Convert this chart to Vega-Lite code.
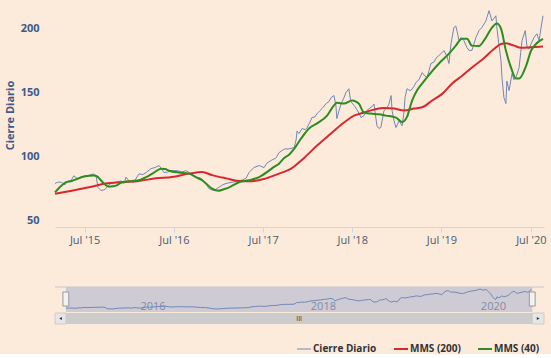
{
  "$schema": "https://vega.github.io/schema/vega-lite/v6.json",
  "background": "#FCEADB",
  "padding": {"left": 4, "top": 3, "right": 6, "bottom": 0},
  "config": {
    "view": {"stroke": null},
    "font": "Open Sans",
    "legend": {
      "orient": "none", "legendX": 244, "legendY": 341, "direction": "horizontal",
      "symbolType": "stroke", "symbolSize": 196, "symbolStrokeWidth": 2,
      "labelFontSize": 10, "labelFontWeight": "bold", "labelColor": "#333333",
      "labelFont": "Open Sans", "columnPadding": 13, "labelOffset": 4
    }
  },
  "datasets": {
    "series": [
      {"d": "2015-03-02", "v": 79, "s": "Cierre Diario"},
      {"d": "2015-03-14", "v": 80, "s": "Cierre Diario"},
      {"d": "2015-03-27", "v": 80, "s": "Cierre Diario"},
      {"d": "2015-04-12", "v": 78, "s": "Cierre Diario"},
      {"d": "2015-04-24", "v": 81, "s": "Cierre Diario"},
      {"d": "2015-05-06", "v": 81, "s": "Cierre Diario"},
      {"d": "2015-05-18", "v": 85, "s": "Cierre Diario"},
      {"d": "2015-05-31", "v": 83, "s": "Cierre Diario"},
      {"d": "2015-06-17", "v": 84, "s": "Cierre Diario"},
      {"d": "2015-07-03", "v": 85, "s": "Cierre Diario"},
      {"d": "2015-07-15", "v": 85, "s": "Cierre Diario"},
      {"d": "2015-08-05", "v": 86.5, "s": "Cierre Diario"},
      {"d": "2015-08-17", "v": 85, "s": "Cierre Diario"},
      {"d": "2015-08-25", "v": 76, "s": "Cierre Diario"},
      {"d": "2015-09-06", "v": 73.5, "s": "Cierre Diario"},
      {"d": "2015-09-18", "v": 74, "s": "Cierre Diario"},
      {"d": "2015-09-26", "v": 75, "s": "Cierre Diario"},
      {"d": "2015-10-09", "v": 78, "s": "Cierre Diario"},
      {"d": "2015-10-17", "v": 79, "s": "Cierre Diario"},
      {"d": "2015-11-07", "v": 80, "s": "Cierre Diario"},
      {"d": "2015-11-27", "v": 81, "s": "Cierre Diario"},
      {"d": "2015-12-10", "v": 79, "s": "Cierre Diario"},
      {"d": "2015-12-18", "v": 84, "s": "Cierre Diario"},
      {"d": "2015-12-30", "v": 81, "s": "Cierre Diario"},
      {"d": "2016-01-19", "v": 80, "s": "Cierre Diario"},
      {"d": "2016-01-31", "v": 84, "s": "Cierre Diario"},
      {"d": "2016-02-09", "v": 86.5, "s": "Cierre Diario"},
      {"d": "2016-02-25", "v": 86, "s": "Cierre Diario"},
      {"d": "2016-03-09", "v": 87.5, "s": "Cierre Diario"},
      {"d": "2016-03-29", "v": 90.6, "s": "Cierre Diario"},
      {"d": "2016-04-15", "v": 91.5, "s": "Cierre Diario"},
      {"d": "2016-05-01", "v": 93, "s": "Cierre Diario"},
      {"d": "2016-05-13", "v": 90, "s": "Cierre Diario"},
      {"d": "2016-05-21", "v": 87.5, "s": "Cierre Diario"},
      {"d": "2016-06-07", "v": 88, "s": "Cierre Diario"},
      {"d": "2016-06-19", "v": 89, "s": "Cierre Diario"},
      {"d": "2016-07-14", "v": 89, "s": "Cierre Diario"},
      {"d": "2016-08-03", "v": 88, "s": "Cierre Diario"},
      {"d": "2016-08-19", "v": 89, "s": "Cierre Diario"},
      {"d": "2016-09-09", "v": 86.7, "s": "Cierre Diario"},
      {"d": "2016-09-29", "v": 84, "s": "Cierre Diario"},
      {"d": "2016-10-20", "v": 83, "s": "Cierre Diario"},
      {"d": "2016-11-01", "v": 81, "s": "Cierre Diario"},
      {"d": "2016-11-09", "v": 79, "s": "Cierre Diario"},
      {"d": "2016-11-21", "v": 75, "s": "Cierre Diario"},
      {"d": "2016-12-04", "v": 74, "s": "Cierre Diario"},
      {"d": "2016-12-12", "v": 73.4, "s": "Cierre Diario"},
      {"d": "2016-12-24", "v": 75, "s": "Cierre Diario"},
      {"d": "2017-01-01", "v": 76, "s": "Cierre Diario"},
      {"d": "2017-01-17", "v": 78, "s": "Cierre Diario"},
      {"d": "2017-01-30", "v": 79, "s": "Cierre Diario"},
      {"d": "2017-02-24", "v": 80, "s": "Cierre Diario"},
      {"d": "2017-03-24", "v": 81, "s": "Cierre Diario"},
      {"d": "2017-04-10", "v": 82, "s": "Cierre Diario"},
      {"d": "2017-04-22", "v": 83, "s": "Cierre Diario"},
      {"d": "2017-05-04", "v": 87.5, "s": "Cierre Diario"},
      {"d": "2017-05-24", "v": 91.4, "s": "Cierre Diario"},
      {"d": "2017-06-15", "v": 93, "s": "Cierre Diario"},
      {"d": "2017-07-05", "v": 91.4, "s": "Cierre Diario"},
      {"d": "2017-07-17", "v": 95, "s": "Cierre Diario"},
      {"d": "2017-08-03", "v": 97, "s": "Cierre Diario"},
      {"d": "2017-08-23", "v": 99, "s": "Cierre Diario"},
      {"d": "2017-09-04", "v": 103, "s": "Cierre Diario"},
      {"d": "2017-09-16", "v": 104.7, "s": "Cierre Diario"},
      {"d": "2017-09-28", "v": 106, "s": "Cierre Diario"},
      {"d": "2017-10-15", "v": 106, "s": "Cierre Diario"},
      {"d": "2017-11-05", "v": 107, "s": "Cierre Diario"},
      {"d": "2017-11-13", "v": 113, "s": "Cierre Diario"},
      {"d": "2017-11-17", "v": 120, "s": "Cierre Diario"},
      {"d": "2017-11-25", "v": 118, "s": "Cierre Diario"},
      {"d": "2017-12-08", "v": 122, "s": "Cierre Diario"},
      {"d": "2017-12-20", "v": 121, "s": "Cierre Diario"},
      {"d": "2017-12-28", "v": 122.6, "s": "Cierre Diario"},
      {"d": "2018-01-09", "v": 127, "s": "Cierre Diario"},
      {"d": "2018-01-17", "v": 130.5, "s": "Cierre Diario"},
      {"d": "2018-01-29", "v": 131, "s": "Cierre Diario"},
      {"d": "2018-02-07", "v": 133.6, "s": "Cierre Diario"},
      {"d": "2018-02-19", "v": 136, "s": "Cierre Diario"},
      {"d": "2018-02-27", "v": 137.5, "s": "Cierre Diario"},
      {"d": "2018-03-16", "v": 141.4, "s": "Cierre Diario"},
      {"d": "2018-03-28", "v": 143, "s": "Cierre Diario"},
      {"d": "2018-04-05", "v": 146, "s": "Cierre Diario"},
      {"d": "2018-04-17", "v": 147.7, "s": "Cierre Diario"},
      {"d": "2018-04-25", "v": 140, "s": "Cierre Diario"},
      {"d": "2018-04-29", "v": 129.7, "s": "Cierre Diario"},
      {"d": "2018-05-08", "v": 136, "s": "Cierre Diario"},
      {"d": "2018-05-16", "v": 141, "s": "Cierre Diario"},
      {"d": "2018-05-28", "v": 146, "s": "Cierre Diario"},
      {"d": "2018-06-05", "v": 150, "s": "Cierre Diario"},
      {"d": "2018-06-17", "v": 153, "s": "Cierre Diario"},
      {"d": "2018-06-25", "v": 143, "s": "Cierre Diario"},
      {"d": "2018-07-08", "v": 140, "s": "Cierre Diario"},
      {"d": "2018-07-16", "v": 138, "s": "Cierre Diario"},
      {"d": "2018-07-28", "v": 134, "s": "Cierre Diario"},
      {"d": "2018-08-06", "v": 130.5, "s": "Cierre Diario"},
      {"d": "2018-08-18", "v": 132, "s": "Cierre Diario"},
      {"d": "2018-08-30", "v": 136, "s": "Cierre Diario"},
      {"d": "2018-09-08", "v": 137.5, "s": "Cierre Diario"},
      {"d": "2018-09-20", "v": 139, "s": "Cierre Diario"},
      {"d": "2018-09-28", "v": 141, "s": "Cierre Diario"},
      {"d": "2018-10-10", "v": 124, "s": "Cierre Diario"},
      {"d": "2018-10-18", "v": 122, "s": "Cierre Diario"},
      {"d": "2018-10-26", "v": 122.7, "s": "Cierre Diario"},
      {"d": "2018-11-08", "v": 136, "s": "Cierre Diario"},
      {"d": "2018-11-20", "v": 138, "s": "Cierre Diario"},
      {"d": "2018-11-28", "v": 141, "s": "Cierre Diario"},
      {"d": "2018-12-07", "v": 147.7, "s": "Cierre Diario"},
      {"d": "2018-12-11", "v": 136, "s": "Cierre Diario"},
      {"d": "2018-12-19", "v": 128, "s": "Cierre Diario"},
      {"d": "2018-12-27", "v": 122.7, "s": "Cierre Diario"},
      {"d": "2019-01-09", "v": 128, "s": "Cierre Diario"},
      {"d": "2019-01-21", "v": 124, "s": "Cierre Diario"},
      {"d": "2019-01-29", "v": 135, "s": "Cierre Diario"},
      {"d": "2019-02-02", "v": 146, "s": "Cierre Diario"},
      {"d": "2019-02-10", "v": 153, "s": "Cierre Diario"},
      {"d": "2019-02-18", "v": 152, "s": "Cierre Diario"},
      {"d": "2019-02-26", "v": 151.6, "s": "Cierre Diario"},
      {"d": "2019-03-11", "v": 155, "s": "Cierre Diario"},
      {"d": "2019-03-19", "v": 158, "s": "Cierre Diario"},
      {"d": "2019-03-31", "v": 160, "s": "Cierre Diario"},
      {"d": "2019-04-13", "v": 165.6, "s": "Cierre Diario"},
      {"d": "2019-04-25", "v": 163, "s": "Cierre Diario"},
      {"d": "2019-05-03", "v": 161.7, "s": "Cierre Diario"},
      {"d": "2019-05-11", "v": 167, "s": "Cierre Diario"},
      {"d": "2019-05-19", "v": 172.7, "s": "Cierre Diario"},
      {"d": "2019-06-01", "v": 174, "s": "Cierre Diario"},
      {"d": "2019-06-09", "v": 177, "s": "Cierre Diario"},
      {"d": "2019-06-21", "v": 179, "s": "Cierre Diario"},
      {"d": "2019-06-29", "v": 180.5, "s": "Cierre Diario"},
      {"d": "2019-07-12", "v": 182.8, "s": "Cierre Diario"},
      {"d": "2019-07-24", "v": 178, "s": "Cierre Diario"},
      {"d": "2019-08-01", "v": 172.7, "s": "Cierre Diario"},
      {"d": "2019-08-09", "v": 188, "s": "Cierre Diario"},
      {"d": "2019-08-21", "v": 200.8, "s": "Cierre Diario"},
      {"d": "2019-08-29", "v": 202, "s": "Cierre Diario"},
      {"d": "2019-09-03", "v": 198, "s": "Cierre Diario"},
      {"d": "2019-09-11", "v": 190.6, "s": "Cierre Diario"},
      {"d": "2019-09-19", "v": 193, "s": "Cierre Diario"},
      {"d": "2019-10-01", "v": 190.6, "s": "Cierre Diario"},
      {"d": "2019-10-14", "v": 185, "s": "Cierre Diario"},
      {"d": "2019-10-22", "v": 183, "s": "Cierre Diario"},
      {"d": "2019-11-03", "v": 183, "s": "Cierre Diario"},
      {"d": "2019-11-19", "v": 193, "s": "Cierre Diario"},
      {"d": "2019-12-02", "v": 198.4, "s": "Cierre Diario"},
      {"d": "2019-12-14", "v": 201, "s": "Cierre Diario"},
      {"d": "2019-12-30", "v": 206, "s": "Cierre Diario"},
      {"d": "2020-01-12", "v": 214, "s": "Cierre Diario"},
      {"d": "2020-01-24", "v": 206, "s": "Cierre Diario"},
      {"d": "2020-02-01", "v": 208, "s": "Cierre Diario"},
      {"d": "2020-02-09", "v": 210, "s": "Cierre Diario"},
      {"d": "2020-02-13", "v": 201, "s": "Cierre Diario"},
      {"d": "2020-02-21", "v": 188, "s": "Cierre Diario"},
      {"d": "2020-03-01", "v": 175, "s": "Cierre Diario"},
      {"d": "2020-03-05", "v": 161.7, "s": "Cierre Diario"},
      {"d": "2020-03-13", "v": 146, "s": "Cierre Diario"},
      {"d": "2020-03-21", "v": 141.4, "s": "Cierre Diario"},
      {"d": "2020-03-25", "v": 159, "s": "Cierre Diario"},
      {"d": "2020-04-03", "v": 151.6, "s": "Cierre Diario"},
      {"d": "2020-04-15", "v": 164.8, "s": "Cierre Diario"},
      {"d": "2020-04-23", "v": 160, "s": "Cierre Diario"},
      {"d": "2020-05-01", "v": 161.7, "s": "Cierre Diario"},
      {"d": "2020-05-14", "v": 169.5, "s": "Cierre Diario"},
      {"d": "2020-05-26", "v": 190.6, "s": "Cierre Diario"},
      {"d": "2020-06-08", "v": 198.4, "s": "Cierre Diario"},
      {"d": "2020-06-16", "v": 185, "s": "Cierre Diario"},
      {"d": "2020-06-24", "v": 184, "s": "Cierre Diario"},
      {"d": "2020-07-02", "v": 188, "s": "Cierre Diario"},
      {"d": "2020-07-14", "v": 193, "s": "Cierre Diario"},
      {"d": "2020-07-26", "v": 196, "s": "Cierre Diario"},
      {"d": "2020-08-04", "v": 190.6, "s": "Cierre Diario"},
      {"d": "2020-08-12", "v": 201, "s": "Cierre Diario"},
      {"d": "2020-08-20", "v": 210, "s": "Cierre Diario"},

      {"d": "2015-03-02", "v": 71, "s": "MMS (200)"},
      {"d": "2015-05-10", "v": 73.4, "s": "MMS (200)"},
      {"d": "2015-07-19", "v": 76, "s": "MMS (200)"},
      {"d": "2015-09-26", "v": 79, "s": "MMS (200)"},
      {"d": "2015-12-01", "v": 80, "s": "MMS (200)"},
      {"d": "2016-02-09", "v": 81, "s": "MMS (200)"},
      {"d": "2016-04-19", "v": 83, "s": "MMS (200)"},
      {"d": "2016-06-23", "v": 84, "s": "MMS (200)"},
      {"d": "2016-09-01", "v": 86.7, "s": "MMS (200)"},
      {"d": "2016-10-24", "v": 88, "s": "MMS (200)"},
      {"d": "2016-12-04", "v": 85.5, "s": "MMS (200)"},
      {"d": "2017-01-30", "v": 83, "s": "MMS (200)"},
      {"d": "2017-03-24", "v": 81, "s": "MMS (200)"},
      {"d": "2017-05-17", "v": 80.8, "s": "MMS (200)"},
      {"d": "2017-07-13", "v": 83, "s": "MMS (200)"},
      {"d": "2017-09-04", "v": 86.7, "s": "MMS (200)"},
      {"d": "2017-10-24", "v": 90.6, "s": "MMS (200)"},
      {"d": "2017-12-16", "v": 99, "s": "MMS (200)"},
      {"d": "2018-02-07", "v": 108.6, "s": "MMS (200)"},
      {"d": "2018-04-05", "v": 118, "s": "MMS (200)"},
      {"d": "2018-05-28", "v": 126.6, "s": "MMS (200)"},
      {"d": "2018-07-08", "v": 132, "s": "MMS (200)"},
      {"d": "2018-08-18", "v": 134.4, "s": "MMS (200)"},
      {"d": "2018-09-28", "v": 136.7, "s": "MMS (200)"},
      {"d": "2018-11-08", "v": 138, "s": "MMS (200)"},
      {"d": "2018-12-19", "v": 137.5, "s": "MMS (200)"},
      {"d": "2019-01-29", "v": 136, "s": "MMS (200)"},
      {"d": "2019-03-11", "v": 137.5, "s": "MMS (200)"},
      {"d": "2019-04-13", "v": 138.5, "s": "MMS (200)"},
      {"d": "2019-05-24", "v": 143.8, "s": "MMS (200)"},
      {"d": "2019-07-04", "v": 149, "s": "MMS (200)"},
      {"d": "2019-08-13", "v": 157, "s": "MMS (200)"},
      {"d": "2019-09-23", "v": 163, "s": "MMS (200)"},
      {"d": "2019-11-12", "v": 171, "s": "MMS (200)"},
      {"d": "2019-12-23", "v": 177, "s": "MMS (200)"},
      {"d": "2020-02-01", "v": 184, "s": "MMS (200)"},
      {"d": "2020-03-01", "v": 188, "s": "MMS (200)"},
      {"d": "2020-03-21", "v": 188.5, "s": "MMS (200)"},
      {"d": "2020-04-23", "v": 186.7, "s": "MMS (200)"},
      {"d": "2020-05-22", "v": 185, "s": "MMS (200)"},
      {"d": "2020-07-02", "v": 185.5, "s": "MMS (200)"},
      {"d": "2020-08-20", "v": 186, "s": "MMS (200)"},

      {"d": "2015-03-02", "v": 72, "s": "MMS (40)"},
      {"d": "2015-03-27", "v": 77, "s": "MMS (40)"},
      {"d": "2015-04-16", "v": 80, "s": "MMS (40)"},
      {"d": "2015-05-10", "v": 81, "s": "MMS (40)"},
      {"d": "2015-05-31", "v": 82.5, "s": "MMS (40)"},
      {"d": "2015-06-21", "v": 84, "s": "MMS (40)"},
      {"d": "2015-07-19", "v": 85, "s": "MMS (40)"},
      {"d": "2015-08-09", "v": 85.2, "s": "MMS (40)"},
      {"d": "2015-08-21", "v": 84.5, "s": "MMS (40)"},
      {"d": "2015-09-06", "v": 81.5, "s": "MMS (40)"},
      {"d": "2015-09-18", "v": 79, "s": "MMS (40)"},
      {"d": "2015-10-09", "v": 76.5, "s": "MMS (40)"},
      {"d": "2015-10-25", "v": 76.8, "s": "MMS (40)"},
      {"d": "2015-11-07", "v": 77.3, "s": "MMS (40)"},
      {"d": "2015-12-01", "v": 80, "s": "MMS (40)"},
      {"d": "2015-12-21", "v": 80.5, "s": "MMS (40)"},
      {"d": "2016-01-11", "v": 81, "s": "MMS (40)"},
      {"d": "2016-02-09", "v": 81.5, "s": "MMS (40)"},
      {"d": "2016-03-09", "v": 84, "s": "MMS (40)"},
      {"d": "2016-04-10", "v": 87.5, "s": "MMS (40)"},
      {"d": "2016-05-09", "v": 90.6, "s": "MMS (40)"},
      {"d": "2016-05-25", "v": 90.3, "s": "MMS (40)"},
      {"d": "2016-06-11", "v": 89, "s": "MMS (40)"},
      {"d": "2016-07-22", "v": 87.5, "s": "MMS (40)"},
      {"d": "2016-09-01", "v": 86.7, "s": "MMS (40)"},
      {"d": "2016-09-29", "v": 84, "s": "MMS (40)"},
      {"d": "2016-10-24", "v": 81.5, "s": "MMS (40)"},
      {"d": "2016-11-09", "v": 79, "s": "MMS (40)"},
      {"d": "2016-12-04", "v": 75, "s": "MMS (40)"},
      {"d": "2017-01-01", "v": 73.4, "s": "MMS (40)"},
      {"d": "2017-01-21", "v": 74.5, "s": "MMS (40)"},
      {"d": "2017-02-12", "v": 76, "s": "MMS (40)"},
      {"d": "2017-03-24", "v": 80, "s": "MMS (40)"},
      {"d": "2017-05-04", "v": 81.5, "s": "MMS (40)"},
      {"d": "2017-06-15", "v": 84, "s": "MMS (40)"},
      {"d": "2017-07-25", "v": 89, "s": "MMS (40)"},
      {"d": "2017-08-15", "v": 92, "s": "MMS (40)"},
      {"d": "2017-09-04", "v": 94.5, "s": "MMS (40)"},
      {"d": "2017-09-25", "v": 99, "s": "MMS (40)"},
      {"d": "2017-10-15", "v": 101.5, "s": "MMS (40)"},
      {"d": "2017-11-05", "v": 106, "s": "MMS (40)"},
      {"d": "2017-12-03", "v": 114, "s": "MMS (40)"},
      {"d": "2018-01-05", "v": 122, "s": "MMS (40)"},
      {"d": "2018-02-07", "v": 126, "s": "MMS (40)"},
      {"d": "2018-03-20", "v": 132, "s": "MMS (40)"},
      {"d": "2018-04-17", "v": 140, "s": "MMS (40)"},
      {"d": "2018-04-29", "v": 142, "s": "MMS (40)"},
      {"d": "2018-05-28", "v": 141.4, "s": "MMS (40)"},
      {"d": "2018-06-30", "v": 143.8, "s": "MMS (40)"},
      {"d": "2018-07-16", "v": 143, "s": "MMS (40)"},
      {"d": "2018-07-28", "v": 141.4, "s": "MMS (40)"},
      {"d": "2018-08-18", "v": 134.4, "s": "MMS (40)"},
      {"d": "2018-09-16", "v": 133.6, "s": "MMS (40)"},
      {"d": "2018-10-18", "v": 133, "s": "MMS (40)"},
      {"d": "2018-11-16", "v": 132, "s": "MMS (40)"},
      {"d": "2018-12-27", "v": 130.5, "s": "MMS (40)"},
      {"d": "2019-01-21", "v": 127, "s": "MMS (40)"},
      {"d": "2019-02-10", "v": 131, "s": "MMS (40)"},
      {"d": "2019-03-03", "v": 143.8, "s": "MMS (40)"},
      {"d": "2019-03-23", "v": 151.6, "s": "MMS (40)"},
      {"d": "2019-04-21", "v": 159, "s": "MMS (40)"},
      {"d": "2019-05-19", "v": 165.6, "s": "MMS (40)"},
      {"d": "2019-06-21", "v": 172.7, "s": "MMS (40)"},
      {"d": "2019-08-01", "v": 180.5, "s": "MMS (40)"},
      {"d": "2019-08-29", "v": 186.7, "s": "MMS (40)"},
      {"d": "2019-09-23", "v": 192, "s": "MMS (40)"},
      {"d": "2019-10-14", "v": 192, "s": "MMS (40)"},
      {"d": "2019-11-03", "v": 186.7, "s": "MMS (40)"},
      {"d": "2019-12-02", "v": 186.5, "s": "MMS (40)"},
      {"d": "2019-12-30", "v": 193, "s": "MMS (40)"},
      {"d": "2020-01-24", "v": 200.8, "s": "MMS (40)"},
      {"d": "2020-02-13", "v": 204, "s": "MMS (40)"},
      {"d": "2020-03-01", "v": 200, "s": "MMS (40)"},
      {"d": "2020-03-21", "v": 182.8, "s": "MMS (40)"},
      {"d": "2020-04-11", "v": 169.5, "s": "MMS (40)"},
      {"d": "2020-05-01", "v": 161, "s": "MMS (40)"},
      {"d": "2020-05-14", "v": 161, "s": "MMS (40)"},
      {"d": "2020-06-12", "v": 171, "s": "MMS (40)"},
      {"d": "2020-07-02", "v": 182.8, "s": "MMS (40)"},
      {"d": "2020-07-22", "v": 188, "s": "MMS (40)"},
      {"d": "2020-08-20", "v": 192, "s": "MMS (40)"}
    ]
  },
  "resolve": {"scale": {"x": "independent", "y": "independent"}},
  "spacing": 41,
  "vconcat": [
    {
      "width": 489,
      "height": 224,
      "data": {"name": "series"},
      "encoding": {
        "x": {
          "field": "d", "type": "temporal",
          "scale": {"type": "utc", "domain": [{"year": 2015, "month": 3, "date": 2, "utc": true}, {"year": 2020, "month": 8, "date": 24, "utc": true}]},
          "axis": {
            "title": null, "grid": false, "format": "%b '%y",
            "values": [
              {"year": 2015, "month": 7, "date": 1, "utc": true},
              {"year": 2016, "month": 7, "date": 1, "utc": true},
              {"year": 2017, "month": 7, "date": 1, "utc": true},
              {"year": 2018, "month": 7, "date": 1, "utc": true},
              {"year": 2019, "month": 7, "date": 1, "utc": true},
              {"year": 2020, "month": 7, "date": 1, "utc": true}
            ],
            "labelFontSize": 11, "labelColor": "#4D5A70", "labelPadding": 2,
            "domainColor": "#CCD6EB", "tickColor": "#CCD6EB", "tickSize": 5
          }
        },
        "y": {
          "field": "v", "type": "quantitative",
          "scale": {"domain": [45, 220], "nice": false, "zero": false},
          "axis": {
            "title": "Cierre Diario", "values": [50, 100, 150, 200],
            "grid": false, "domain": false, "ticks": false,
            "labelFontSize": 11, "labelFontWeight": "bold", "labelColor": "#3C5A88", "labelPadding": 16,
            "titleFontSize": 11, "titleFontWeight": "bold", "titleColor": "#3C5A88", "titlePadding": 5
          }
        },
        "color": {
          "field": "s", "type": "nominal", "title": null,
          "scale": {"domain": ["Cierre Diario", "MMS (200)", "MMS (40)"], "range": ["#6F88B6", "#D7282D", "#2D8C1E"]},
          "legend": {
            "encode": {"symbols": {"update": {"strokeWidth": {"signal": "datum.value === 'Cierre Diario' ? 1 : 2"}}}}
          }
        }
      },
      "layer": [
        {
          "transform": [{"filter": "datum.s === 'Cierre Diario'"}],
          "mark": {"type": "line", "strokeWidth": 1}
        },
        {
          "transform": [{"filter": "datum.s !== 'Cierre Diario'"}],
          "mark": {"type": "line", "strokeWidth": 2, "interpolate": "monotone"}
        }
      ]
    },
    {
      "spacing": 0,
      "resolve": {"scale": {"x": "independent", "y": "independent"}},
      "vconcat": [
        {
          "width": 489,
          "height": 25,
          "layer": [
            {
              "data": {"values": [{}]},
              "mark": {"type": "rect", "color": "#6685C2", "opacity": 0.3},
              "encoding": {
                "x": {"datum": {"year": 2015, "month": 3, "date": 2, "utc": true}, "type": "temporal",
                  "scale": {"type": "utc", "domain": [{"year": 2015, "month": 1, "date": 14, "utc": true}, {"year": 2020, "month": 10, "date": 13, "utc": true}]},
                  "axis": {
                    "title": null, "grid": false, "domain": false, "ticks": false, "tickSize": 0, "format": "%Y",
                    "values": [
                      {"year": 2016, "month": 1, "date": 1, "utc": true},
                      {"year": 2018, "month": 1, "date": 1, "utc": true},
                      {"year": 2020, "month": 1, "date": 1, "utc": true}
                    ],
                    "labelAlign": "left", "labelBaseline": "alphabetic", "labelPadding": -3, "labelOffset": 3,
                    "labelFontSize": 11, "labelColor": "#8E8E99"
                  }
                },
                "x2": {"datum": {"year": 2020, "month": 8, "date": 24, "utc": true}}
              }
            },
            {
              "data": {"name": "series"},
              "transform": [{"filter": "datum.s === 'Cierre Diario'"}],
              "mark": {"type": "line", "color": "#6F88B6", "strokeWidth": 1},
              "encoding": {
                "x": {"field": "d", "type": "temporal"},
                "y": {"field": "v", "type": "quantitative", "scale": {"domain": [52, 228], "nice": false, "zero": false}, "axis": null}
              }
            },
            {
              "data": {"values": [{}]},
              "mark": {"type": "rule", "color": "#C8C8C8", "strokeWidth": 1},
              "encoding": {"y": {"datum": 228, "type": "quantitative"}}
            },
            {
              "data": {"values": [{}]},
              "mark": {"type": "rect", "fill": "#F2F2F2", "stroke": "#999999", "strokeWidth": 1},
              "encoding": {
                "x": {"datum": {"year": 2015, "month": 2, "date": 17, "utc": true}, "type": "temporal"},
                "x2": {"datum": {"year": 2015, "month": 3, "date": 14, "utc": true}},
                "y": {"datum": 193, "type": "quantitative"},
                "y2": {"datum": 94}
              }
            },
            {
              "data": {"values": [{}]},
              "mark": {"type": "rect", "fill": "#F2F2F2", "stroke": "#999999", "strokeWidth": 1},
              "encoding": {
                "x": {"datum": {"year": 2020, "month": 8, "date": 11, "utc": true}, "type": "temporal"},
                "x2": {"datum": {"year": 2020, "month": 9, "date": 5, "utc": true}},
                "y": {"datum": 193, "type": "quantitative"},
                "y2": {"datum": 94}
              }
            }
          ]
        },
        {
          "width": 489,
          "height": 11,
          "layer": [
            {
              "data": {"values": [{}]},
              "mark": {"type": "rect", "color": "#CCCCCC"},
              "encoding": {
                "x": {"datum": {"year": 2015, "month": 3, "date": 2, "utc": true}, "type": "temporal",
                  "scale": {"type": "utc", "domain": [{"year": 2015, "month": 1, "date": 14, "utc": true}, {"year": 2020, "month": 10, "date": 13, "utc": true}]},
                  "axis": null},
                "x2": {"datum": {"year": 2020, "month": 8, "date": 24, "utc": true}}
              }
            },
            {
              "data": {"values": [{}]},
              "mark": {"type": "rect", "fill": "#E6E6E6", "stroke": "#CCCCCC", "strokeWidth": 1},
              "encoding": {
                "x": {"datum": {"year": 2015, "month": 1, "date": 14, "utc": true}, "type": "temporal"},
                "x2": {"datum": {"year": 2015, "month": 3, "date": 2, "utc": true}}
              }
            },
            {
              "data": {"values": [{}]},
              "mark": {"type": "rect", "fill": "#E6E6E6", "stroke": "#CCCCCC", "strokeWidth": 1},
              "encoding": {
                "x": {"datum": {"year": 2020, "month": 8, "date": 24, "utc": true}, "type": "temporal"},
                "x2": {"datum": {"year": 2020, "month": 10, "date": 13, "utc": true}}
              }
            },
            {
              "data": {"values": [{}]},
              "mark": {"type": "point", "shape": "triangle-left", "filled": true, "color": "#333333", "size": 10, "opacity": 1},
              "encoding": {"x": {"datum": {"year": 2015, "month": 2, "date": 7, "utc": true}, "type": "temporal"}}
            },
            {
              "data": {"values": [{}]},
              "mark": {"type": "point", "shape": "triangle-right", "filled": true, "color": "#333333", "size": 10, "opacity": 1},
              "encoding": {"x": {"datum": {"year": 2020, "month": 9, "date": 18, "utc": true}, "type": "temporal"}}
            },
            {
              "data": {"values": [{}]},
              "mark": {"type": "text", "text": "III", "fontSize": 7, "color": "#333333", "baseline": "middle", "align": "center"},
              "encoding": {"x": {"datum": {"year": 2017, "month": 11, "date": 27, "utc": true}, "type": "temporal"}}
            }
          ]
        }
      ]
    }
  ]
}
